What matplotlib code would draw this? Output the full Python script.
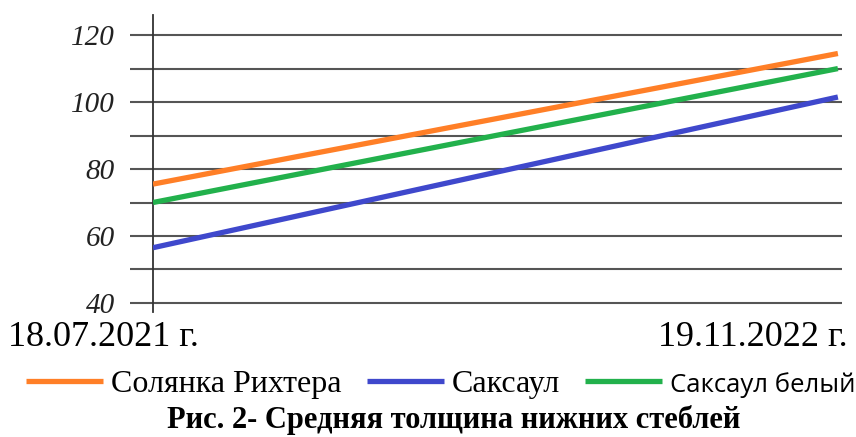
import numpy as np
import matplotlib
matplotlib.use("Agg")
import matplotlib.pyplot as plt

# data
dates = ['18.07.2021 г.', '19.11.2022 г.']
series_names = ['Солянка Рихтера', 'Саксаул', 'Саксаул белый']
solyanka = [75.5, 114.5]
saksaul = [56.5, 101.5]
saksaul_bel = [70.0, 110.0]
yticks = np.arange(40, 121, 10)

colors = ['#ff7f27', '#3f48cc', '#22b14c']

fig = plt.figure(figsize=(8.56, 4.37), dpi=100)
W, H = 856, 437
ax = fig.add_axes([153 / W, 1 - 312 / H, (842 - 153) / W, (312 - 15) / H])

x = np.arange(len(dates))
lines = []
for vals, c, name in zip([solyanka, saksaul, saksaul_bel], colors, series_names):
    ln, = ax.plot(x, vals, color=c, lw=3.8, label=name, solid_capstyle='butt', zorder=3)
    lines.append(ln)

ax.set_xlim(0, 1.006)
ax.set_ylim(37.3, 126)
ax.set_yticks(yticks)
ax.set_yticklabels([str(v) if v % 20 == 0 else '' for v in yticks],
                   fontfamily='Liberation Serif', fontstyle='italic',
                   fontsize=21, color='#222222')
ax.tick_params(axis='y', length=16.5, width=1.5, color='#555555', pad=11)
ax.set_xticks([])
ax.grid(axis='y', color='#555555', lw=1.5)
ax.set_axisbelow(True)
for s in ['top', 'right', 'bottom']:
    ax.spines[s].set_visible(False)
ax.spines['left'].set_color('#333333')
ax.spines['left'].set_linewidth(1.3)

# x labels at the ends
fig.text(8 / W, 1 - 337 / H, dates[0], ha='left', va='center',
         fontfamily='Liberation Serif', fontsize=26)
fig.text(848 / W, 1 - 337 / H, dates[1], ha='right', va='center',
         fontfamily='Liberation Serif', fontsize=26)

leg = fig.legend(handles=lines, loc='center', bbox_to_anchor=(0.515, 1 - 384 / H),
                 ncol=3, frameon=False, prop={'family': 'Liberation Serif', 'size': 23},
                 handlelength=2.4, handletextpad=0.25, columnspacing=0.8,
                 borderaxespad=0, borderpad=0)
leg.get_texts()[2].set_fontfamily('Open Sans')
leg.get_texts()[2].set_fontsize(18.5)

fig.text(0.53, 1 - 420 / H, 'Рис. 2- Средняя толщина нижних стеблей', ha='center', va='center',
         fontfamily='Liberation Serif', fontweight='bold', fontsize=22)

fig.savefig('out.png', dpi=100)
